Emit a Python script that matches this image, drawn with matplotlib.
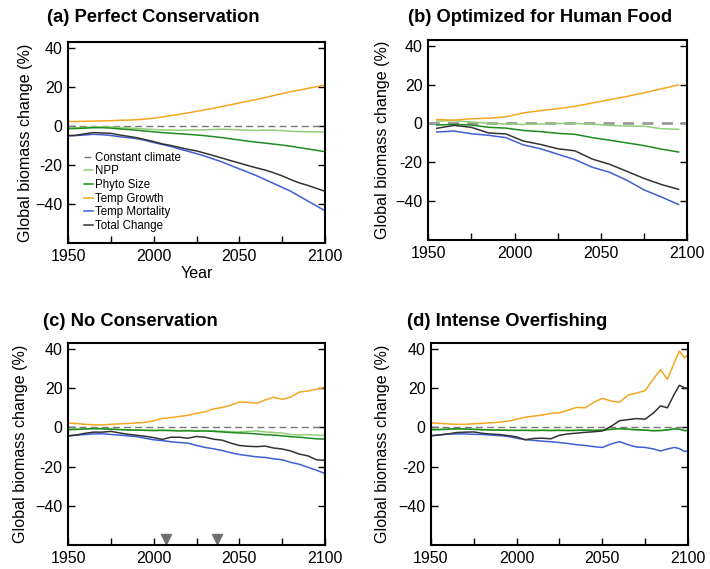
import matplotlib
matplotlib.use("Agg")
import matplotlib.pyplot as plt

plt.rcParams['font.family'] = ['Liberation Sans', 'DejaVu Sans']

# ---- data ----
years5 = [1950, 1955, 1960, 1965, 1970, 1975, 1980, 1985, 1990, 1995, 2000,
          2005, 2010, 2015, 2020, 2025, 2030, 2035, 2040, 2045, 2050,
          2055, 2060, 2065, 2070, 2075, 2080, 2085, 2090, 2095, 2100]

# (a) Perfect Conservation
a_npp = [-1.0, -0.9, -0.7, -0.5, -0.4, -0.5, -0.8, -1.0, -1.3, -1.6, -1.8,
         -2.0, -2.1, -2.2, -2.1, -2.0, -2.0, -1.8, -1.7, -1.8, -2.0,
         -2.2, -2.3, -2.1, -2.2, -2.4, -2.7, -2.9, -3.0, -3.0, -3.1]
a_phyto = [-1.4, -1.3, -1.1, -0.9, -0.9, -1.1, -1.5, -1.8, -2.2, -2.6, -3.0,
           -3.4, -3.7, -4.0, -4.3, -4.6, -5.0, -5.5, -6.0, -6.6, -7.2,
           -7.8, -8.3, -8.8, -9.3, -9.8, -10.4, -11.1, -11.8, -12.5, -13.2]
a_growth = [2.3, 2.3, 2.4, 2.5, 2.6, 2.7, 2.9, 3.0, 3.2, 3.5, 4.0,
            4.6, 5.3, 6.0, 6.7, 7.5, 8.3, 9.1, 10.0, 10.9, 11.8,
            12.7, 13.6, 14.6, 15.6, 16.6, 17.6, 18.4, 19.3, 20.1, 21.0]
a_mort = [-5.0, -4.9, -4.6, -4.3, -4.5, -4.9, -5.5, -6.0, -6.5, -7.4, -8.5,
          -9.5, -10.5, -11.8, -13.0, -14.2, -15.5, -17.0, -18.5, -20.3, -22.0,
          -23.7, -25.5, -27.5, -29.5, -31.5, -33.5, -36.0, -38.5, -41.0, -43.5]
a_total = [-5.0, -4.8, -4.0, -3.4, -3.6, -3.8, -4.6, -5.3, -6.0, -7.0, -8.0,
           -9.2, -10.0, -11.0, -12.0, -12.8, -14.0, -15.2, -16.5, -17.8, -19.0,
           -20.3, -21.5, -22.6, -24.0, -25.6, -27.5, -29.2, -30.5, -32.0, -33.5]

# (b) Optimized for Human Food (decadal)
b_years = [1955, 1965, 1975, 1985, 1995, 2005, 2015, 2025, 2035, 2045,
           2055, 2065, 2075, 2085, 2095]
b_npp = [1.2, 1.4, 0.8, 0.0, -0.3, -0.5, -0.3, 0.0, 0.0, -0.3,
         -1.0, -1.4, -1.4, -2.7, -3.0]
b_phyto = [-0.8, -0.5, -0.8, -2.0, -2.4, -3.6, -4.2, -5.1, -5.6, -7.3,
           -8.6, -10.0, -11.4, -13.2, -14.7]
b_growth = [2.0, 1.7, 2.4, 2.7, 3.4, 5.4, 6.6, 7.6, 8.8, 10.5,
            12.2, 13.9, 15.8, 17.8, 19.8]
b_mort = [-4.4, -3.9, -5.3, -6.1, -7.3, -11.0, -13.0, -15.8, -18.6, -22.5,
          -25.1, -29.2, -34.2, -37.8, -41.7]
b_total = [-2.5, -1.0, -2.0, -4.9, -5.4, -9.0, -10.8, -13.0, -14.1, -18.3,
           -21.0, -24.6, -28.3, -31.4, -33.9]

# (c) No Conservation
c_npp = [-1.0, -0.9, -0.7, -0.5, -0.6, -0.8, -1.0, -1.2, -1.3, -1.4, -1.5,
         -1.4, -1.5, -1.6, -1.5, -1.6, -1.6, -1.7, -1.9, -2.2, -2.3,
         -2.0, -1.8, -2.3, -2.6, -2.9, -3.6, -3.8, -3.7, -3.9, -4.0]
c_phyto = [-1.2, -1.0, -0.8, -0.6, -0.7, -0.9, -1.1, -1.3, -1.4, -1.5, -1.6,
           -1.5, -1.6, -1.8, -1.7, -1.9, -1.8, -2.0, -2.3, -2.6, -2.8,
           -3.0, -3.3, -3.7, -3.9, -4.3, -4.7, -5.0, -5.4, -5.8, -6.0]
c_growth = [2.2, 2.0, 1.6, 1.3, 1.3, 1.6, 1.8, 2.0, 2.3, 2.6, 3.4,
            4.6, 5.0, 5.6, 6.2, 7.2, 8.0, 9.5, 10.2, 11.3, 13.0,
            12.8, 12.3, 14.0, 15.4, 14.3, 15.5, 18.0, 18.6, 19.4, 20.5]
c_mort = [-4.3, -4.0, -3.6, -3.3, -3.2, -3.6, -3.9, -4.3, -4.7, -5.5, -6.3,
          -6.7, -7.3, -7.7, -8.0, -9.2, -10.2, -10.9, -11.8, -12.9, -13.8,
          -14.4, -15.0, -15.3, -16.0, -16.5, -17.8, -18.8, -20.3, -21.8, -23.5]
c_total = [-4.3, -3.8, -3.0, -2.4, -2.4, -2.0, -2.8, -3.5, -4.0, -4.5, -5.2,
           -6.1, -5.0, -5.0, -5.5, -4.6, -5.0, -6.0, -6.5, -8.0, -9.2,
           -9.6, -9.8, -9.5, -10.5, -11.0, -12.0, -13.6, -14.5, -16.5, -16.8]
c_markers = [2007, 2037]

# (d) Intense Overfishing
d_years = [1950, 1955, 1960, 1965, 1970, 1975, 1980, 1985, 1990, 1995, 2000,
           2005, 2010, 2015, 2020, 2025, 2030, 2035, 2040, 2045, 2050,
           2055, 2060, 2065, 2070, 2075, 2080, 2084, 2088, 2092, 2095, 2098, 2100]
d_npp = [-1.1, -1.0, -0.8, -0.7, -0.8, -0.9, -1.1, -1.2, -1.3, -1.4, -1.5,
         -1.4, -1.5, -1.4, -1.5, -1.4, -1.5, -1.4, -1.3, -1.4, -1.4,
         -0.9, -0.6, -0.9, -1.2, -1.4, -1.6, -1.5, -1.2, -0.8, -0.9, -1.5, -1.6]
d_phyto = [-1.2, -1.1, -0.9, -0.7, -0.8, -1.0, -1.2, -1.3, -1.4, -1.5, -1.5,
           -1.5, -1.6, -1.5, -1.6, -1.5, -1.6, -1.5, -1.4, -1.5, -1.4,
           -1.0, -0.6, -0.9, -1.2, -1.4, -1.7, -1.6, -1.3, -0.7, -0.9, -1.6, -1.7]
d_growth = [2.3, 2.1, 1.8, 1.6, 1.6, 1.9, 2.1, 2.4, 2.7, 3.2, 4.2,
            5.2, 5.8, 6.3, 7.2, 7.5, 8.8, 10.2, 10.0, 12.8, 14.8,
            13.5, 12.8, 16.5, 17.5, 18.8, 25.0, 29.5, 24.5, 33.0, 39.0, 35.5, 37.0]
d_mort = [-4.3, -3.8, -3.4, -3.3, -3.3, -3.5, -3.6, -3.9, -4.2, -4.6, -5.5,
          -6.2, -6.6, -7.0, -7.3, -7.7, -8.2, -8.8, -9.2, -9.8, -10.2,
          -8.5, -7.2, -8.8, -10.0, -10.2, -11.0, -12.0, -11.0, -10.2, -10.8, -12.3, -11.8]
d_total = [-4.2, -3.8, -3.3, -2.6, -2.4, -2.3, -3.0, -3.4, -3.6, -4.2, -4.8,
           -6.3, -5.6, -5.5, -5.8, -4.0, -3.3, -2.9, -2.5, -2.2, -1.8,
           0.5, 3.4, 4.0, 4.5, 4.2, 7.5, 11.0, 10.0, 17.0, 21.5, 20.2, 19.8]

series_names = ["NPP", "Phyto Size", "Temp Growth", "Temp Mortality", "Total Change"]
series_colors = ["#93cf78", "#1e8c1e", "#f5a623", "#3f5fd6", "#333333"]
titles = ["(a) Perfect Conservation", "(b) Optimized for Human Food",
          "(c) No Conservation", "(d) Intense Overfishing"]
yticks = [-40, -20, 0, 20, 40]
ytick_labels = ["\u221240", "-20", "0", "20", "40"]

panels = [
    (years5, [a_npp, a_phyto, a_growth, a_mort, a_total]),
    (b_years, [b_npp, b_phyto, b_growth, b_mort, b_total]),
    (years5, [c_npp, c_phyto, c_growth, c_mort, c_total]),
    (d_years, [d_npp, d_phyto, d_growth, d_mort, d_total]),
]

fig = plt.figure(figsize=(7.1, 5.69), dpi=100)
positions = [
    [0.0958, 0.573, 0.362, 0.353],
    [0.603, 0.578, 0.365, 0.352],
    [0.0958, 0.042, 0.362, 0.355],
    [0.607, 0.042, 0.362, 0.355],
]
title_pos = [(47, 22), (408, 22), (43, 326), (407, 326)]
label_x = [-0.136, -0.147, -0.156, -0.16]

for i, (yrs, data) in enumerate(panels):
    ax = fig.add_axes(positions[i])
    if i == 1:
        ax.axhline(0, color="#9a9a9a", lw=2.0, ls=(0, (4, 3)), label="Constant climate")
    else:
        ax.axhline(0, color="#777777", lw=1.0, ls=(0, (5, 3)), label="Constant climate")
    for vals, name, col in zip(data, series_names, series_colors):
        ax.plot(yrs, vals, color=col, lw=1.1, label=name)
    ax.set_xlim(1950, 2100)
    ax.set_ylim(-60, 43)
    ax.set_xticks([1950, 2000, 2050, 2100])
    ax.set_xticks([1975, 2025, 2075], minor=True)
    ax.set_yticks(yticks)
    ax.set_yticklabels(ytick_labels)
    ax.tick_params(axis="both", which="both", direction="in", labelsize=11.5,
                   length=5, width=1.0, right=True, top=False, pad=4)
    for s in ax.spines.values():
        s.set_linewidth(1.5)
    ax.set_ylabel("Global biomass change (%)", fontsize=11.6)
    ax.yaxis.set_label_coords(label_x[i], 0.5)
    tx, ty = title_pos[i]
    fig.text(tx / 710, 1 - ty / 569, titles[i], fontsize=13.2, fontweight="bold",
             ha="left", va="baseline")
    if i == 0:
        ax.set_xlabel("Year", fontsize=11.5, labelpad=2)
        ax.legend(loc="upper left", bbox_to_anchor=(0.061, 0.455), frameon=False,
                  fontsize=8.3, handlelength=0.8, handletextpad=0.2,
                  labelspacing=0.15, borderpad=0, borderaxespad=0)
    if i == 2:
        ax.plot(c_markers, [0.032] * len(c_markers), marker="v", ls="none",
                color="#6e6e6e", markersize=7, transform=ax.get_xaxis_transform(),
                clip_on=False)

fig.savefig("out.png", dpi=100)
